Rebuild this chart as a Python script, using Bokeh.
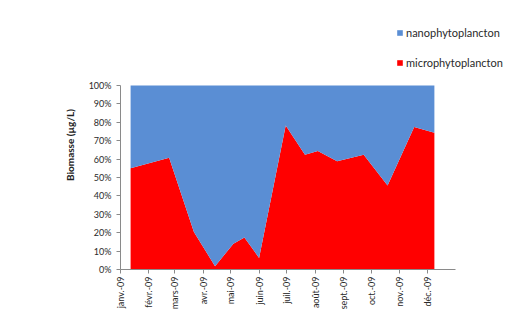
import math
from datetime import datetime, timezone
from bokeh.plotting import figure
from bokeh.models import (Range1d, FixedTicker, CustomJSTickFormatter, PrintfTickFormatter,
                          Legend, LegendItem, ColumnDataSource)
from bokeh.embed import file_html
from bokeh.resources import INLINE

# ---- data ----
dates = ["2009-01-12", "2009-02-23", "2009-03-22", "2009-04-14", "2009-05-04",
         "2009-05-16", "2009-06-01", "2009-06-30", "2009-07-21", "2009-08-04",
         "2009-08-25", "2009-09-23", "2009-10-19", "2009-11-17", "2009-12-09"]
micro = [55.0, 60.8, 20.4, 1.8, 14.0, 17.4, 6.3, 78.3, 62.4, 64.4, 58.8, 62.4, 45.7, 77.4, 74.3]
nano = [45.0, 39.2, 79.6, 98.2, 86.0, 82.6, 93.7, 21.7, 37.6, 35.6, 41.2, 37.6, 54.3, 22.6, 25.7]
month_labels = ["janv.-09", "févr.-09", "mars-09", "avr.-09", "mai-09", "juin-09",
                "juil.-09", "août-09", "sept.-09", "oct.-09", "nov.-09", "déc.-09"]
series_names = ["nanophytoplancton", "microphytoplancton"]
y_label = "Biomasse (µg/L)"


def ms(s):
    d = datetime.strptime(s, "%Y-%m-%d").replace(tzinfo=timezone.utc)
    return d.timestamp() * 1000.0


x = [ms(d) for d in dates]
nano_top = [m + n for m, n in zip(micro, nano)]
src = ColumnDataSource(dict(x=x, micro=micro, total=nano_top, zero=[0] * len(x)))

month_ticks = [ms("2009-%02d-01" % m) for m in range(1, 13)]
x0, x1 = ms("2009-01-01"), ms("2010-01-01")

# layout: frame extended beyond the axes so the legend fits inside the frame
W, H = 509, 320
LEFT, BOTTOM, TOP, RIGHT = 120, 51, 20, 4
axis_px_x = 335.0          # pixels from x0 to x1
axis_px_y = 184.0          # pixels from 0% to 100%
frame_w = W - LEFT - RIGHT
frame_h = H - TOP - BOTTOM
x_end = x0 + (x1 - x0) * frame_w / axis_px_x
y_end = 100.0 * frame_h / axis_px_y

FONT = "Lato"

p = figure(width=W, height=H, output_backend="svg", toolbar_location=None,
           x_axis_type="datetime",
           x_range=Range1d(x0, x_end),
           y_range=Range1d(0, y_end),
           min_border_left=LEFT, min_border_right=RIGHT, min_border_top=TOP,
           min_border_bottom=BOTTOM)
p.outline_line_color = None
p.background_fill_color = "white"
p.border_fill_color = "white"
p.xgrid.visible = False
p.ygrid.visible = False

r_micro = p.varea(x="x", y1="zero", y2="micro", source=src, fill_color="#FF0000")
r_nano = p.varea(x="x", y1="micro", y2="total", source=src, fill_color="#5A8ED4")

# axes
for ax in (p.xaxis[0], p.yaxis[0]):
    ax.axis_line_color = "#8A8A8A"
    ax.major_tick_line_color = "#8A8A8A"
    ax.minor_tick_line_color = None
    ax.major_tick_in = 0
    ax.major_tick_out = 4
    ax.major_label_text_font = FONT
    ax.major_label_text_font_size = "9px"
    ax.major_label_text_color = "#2a2a2a"

p.xaxis[0].bounds = (x0, x1)
p.xaxis[0].ticker = FixedTicker(ticks=month_ticks)
p.xaxis[0].formatter = CustomJSTickFormatter(
    args=dict(labels=month_labels),
    code="return labels[new Date(tick).getUTCMonth()];")
p.xaxis[0].major_label_orientation = math.pi / 2
p.xaxis[0].major_label_standoff = 3

p.yaxis[0].bounds = (0, 100)
p.yaxis[0].ticker = FixedTicker(ticks=list(range(0, 101, 10)))
p.yaxis[0].formatter = PrintfTickFormatter(format="%d%%")
p.yaxis[0].major_label_standoff = 5
p.yaxis[0].axis_label = y_label
p.yaxis[0].axis_label_text_font = FONT
p.yaxis[0].axis_label_text_font_size = "10px"
p.yaxis[0].axis_label_text_font_style = "bold"
p.yaxis[0].axis_label_text_color = "#222222"
p.yaxis[0].axis_label_standoff = 10

legend = Legend(items=[LegendItem(label=series_names[0], renderers=[r_nano]),
                       LegendItem(label=series_names[1], renderers=[r_micro])],
                location=(276, H - BOTTOM - 69), orientation="vertical",
                padding=0, margin=0, spacing=17,
                glyph_width=7, glyph_height=7, label_height=10,
                label_standoff=3,
                label_text_font=FONT, label_text_font_size="11px",
                label_text_color="#2a2a2a",
                border_line_color=None, background_fill_alpha=0)
p.add_layout(legend, "center")

open("out.html", "w").write(file_html(p, INLINE))
